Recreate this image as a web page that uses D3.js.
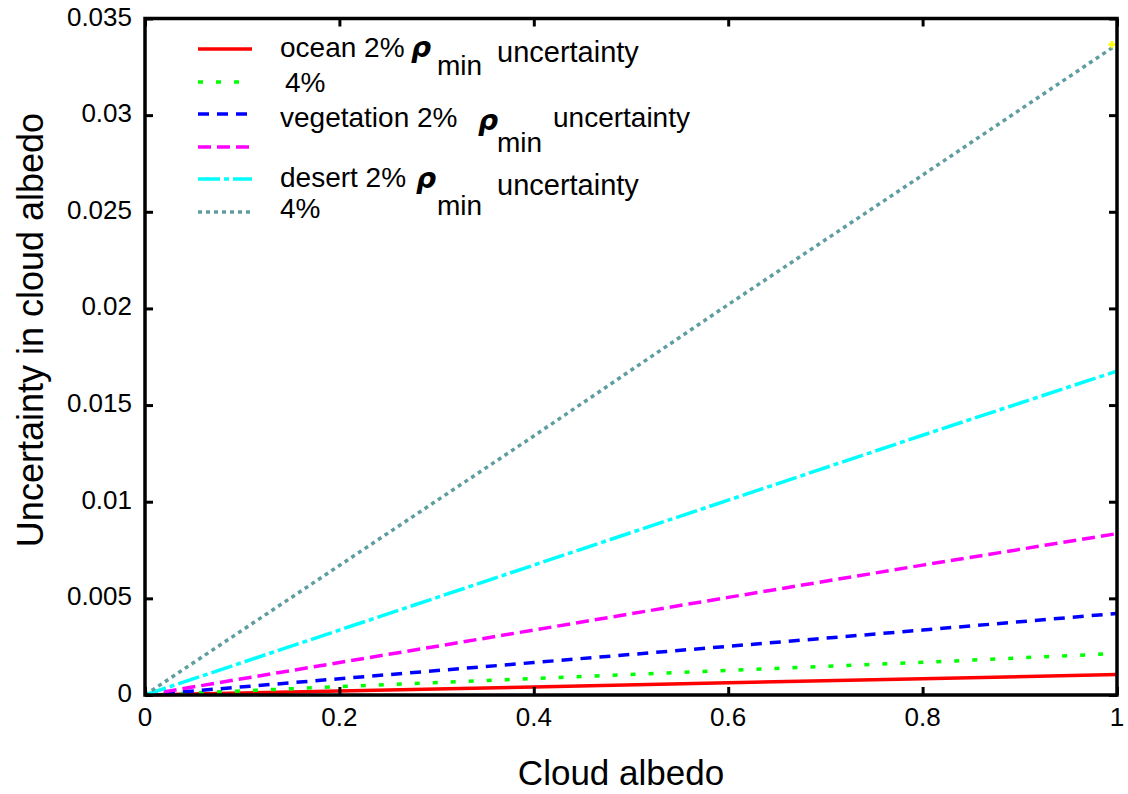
<!DOCTYPE html>
<html>
<head>
<meta charset="utf-8">
<script src="https://cdn.jsdelivr.net/npm/d3@7"></script>
<style>
  body { margin: 0; background: #fff; }
  svg { display: block; font-family: "Liberation Sans", Arial, sans-serif; }
</style>
</head>
<body>
<svg></svg>
<script>
const width  = 1128,
      height = 794,
      margin = {top: 18.5, right: 11, bottom: 99, left: 145},
      svg = d3.select("svg").attr("width", width).attr("height", height);

// cloud albedo samples
const albedo = [0, 0.2, 0.4, 0.6, 0.8, 1.0];

// uncertainty in cloud albedo
const ocean2      = [0, 0.00021, 0.00042, 0.00063, 0.00084, 0.00106];
const ocean4      = [0, 0.00043, 0.00085, 0.00127, 0.00169, 0.00215];
const vegetation2 = [0, 0.00084, 0.00168, 0.00252, 0.00336, 0.00422];
const vegetation4 = [0, 0.00168, 0.00336, 0.00505, 0.00672, 0.00835];
const desert2     = [0, 0.00336, 0.00672, 0.01008, 0.01344, 0.01676];
const desert4     = [0, 0.0067, 0.0134, 0.0202, 0.0269, 0.03365];

const xTicks = [0, 0.2, 0.4, 0.6, 0.8, 1];
const yTicks = [0, 0.005, 0.01, 0.015, 0.02, 0.025, 0.03, 0.035];

const series = [
  {values: ocean2,      color: "#ff0000", dash: null},
  {values: ocean4,      color: "#00ff00", dash: "5,13"},
  {values: vegetation2, color: "#0000ff", dash: "11,8"},
  {values: vegetation4, color: "#ff00ff", dash: "13,6"},
  {values: desert2,     color: "#00ffff", dash: "22,4,5,4"},
  {values: desert4,     color: "#5f9ea0", dash: "4,4"}
];

const x = d3.scaleLinear().domain([0, 1]).range([margin.left, width - margin.right]);
const y = d3.scaleLinear().domain([0, 0.035]).range([height - margin.bottom, margin.top]);

const line = d3.line()
  .x((d, i) => x(albedo[i]))
  .y(d => y(d));

// data lines
const lines = svg.append("g").attr("class", "lines");
series.forEach(s => {
  lines.append("path")
    .attr("d", line(s.values))
    .attr("fill", "none")
    .attr("stroke", s.color)
    .attr("stroke-width", 3.5)
    .attr("stroke-dasharray", s.dash);
});

// little yellow mark at the end of the last curve
lines.append("path")
  .attr("d", d3.symbol(d3.symbolCross, 30)())
  .attr("transform", `translate(${x(albedo[albedo.length - 1]) - 5}, ${y(desert4[desert4.length - 1])})`)
  .attr("fill", "#ffff00");

// axes, ticks pointing in on all four sides
const tickLen = 8;
const axes = svg.append("g").attr("class", "axis");

axes.append("g")
  .attr("transform", `translate(0, ${y(0)})`)
  .call(d3.axisTop(x).tickValues(xTicks).tickSize(tickLen).tickFormat(""))
  .call(g => g.select(".domain").remove());
axes.append("g")
  .attr("transform", `translate(0, ${y(0.035)})`)
  .call(d3.axisBottom(x).tickValues(xTicks).tickSize(tickLen).tickFormat(""))
  .call(g => g.select(".domain").remove());
axes.append("g")
  .attr("transform", `translate(${x(0)}, 0)`)
  .call(d3.axisRight(y).tickValues(yTicks).tickSize(tickLen).tickFormat(""))
  .call(g => g.select(".domain").remove());
axes.append("g")
  .attr("transform", `translate(${x(1)}, 0)`)
  .call(d3.axisLeft(y).tickValues(yTicks).tickSize(tickLen).tickFormat(""))
  .call(g => g.select(".domain").remove());
axes.selectAll(".tick line").attr("stroke", "#000").attr("stroke-width", 3);

svg.append("rect")
  .attr("x", x(0)).attr("y", y(0.035))
  .attr("width", x(1) - x(0)).attr("height", y(0) - y(0.035))
  .attr("fill", "none").attr("stroke", "#000").attr("stroke-width", 3.5);

// tick labels
svg.append("g").selectAll("text")
  .data(xTicks)
  .join("text")
  .attr("x", d => x(d))
  .attr("y", y(0) + 31)
  .attr("text-anchor", "middle")
  .attr("font-size", 26)
  .text(d => d3.format("")(d));

svg.append("g").selectAll("text")
  .data(yTicks)
  .join("text")
  .attr("x", x(0) - 13)
  .attr("y", d => y(d) + 7)
  .attr("text-anchor", "end")
  .attr("font-size", 26)
  .text(d => d3.format("")(d));

// axis titles
svg.append("text")
  .attr("x", 621)
  .attr("y", 785)
  .attr("text-anchor", "middle")
  .attr("font-size", 35)
  .text("Cloud albedo");

svg.append("text")
  .attr("transform", "translate(43, 330) rotate(-90)")
  .attr("text-anchor", "middle")
  .attr("font-size", 36)
  .text("Uncertainty in cloud albedo");

// legend
const legend = svg.append("g").attr("class", "legend");
const legendRows = [49, 82, 114, 147, 179, 212];
series.forEach((s, i) => {
  legend.append("line")
    .attr("x1", 198).attr("x2", 252)
    .attr("y1", legendRows[i]).attr("y2", legendRows[i])
    .attr("stroke", s.color)
    .attr("stroke-width", 3.5)
    .attr("stroke-dasharray", s.dash);
});

const legendText = [
  {t: "ocean 2%",      x: 280, y: 57,  size: 28},
  {t: "4%",            x: 285, y: 92,  size: 28},
  {t: "vegetation 2%", x: 280, y: 127, size: 28},
  {t: "desert 2%",     x: 280, y: 187, size: 28},
  {t: "4%",            x: 280, y: 218, size: 28},
  {t: "uncertainty",   x: 497, y: 62,  size: 29},
  {t: "uncertainty",   x: 553, y: 127, size: 28},
  {t: "uncertainty",   x: 497, y: 195, size: 29},
  {t: "min",           x: 437, y: 75,  size: 28},
  {t: "min",           x: 497, y: 152, size: 28},
  {t: "min",           x: 437, y: 215, size: 28}
];
legend.selectAll("text.lbl")
  .data(legendText)
  .join("text")
  .attr("class", "lbl")
  .attr("x", d => d.x)
  .attr("y", d => d.y)
  .attr("font-size", d => d.size)
  .text(d => d.t);

const rhoPos = [[411, 57], [478, 130], [416, 188]];
legend.selectAll("text.rho")
  .data(rhoPos)
  .join("text")
  .attr("class", "rho")
  .attr("x", d => d[0])
  .attr("y", d => d[1])
  .attr("font-family", "DejaVu Sans")
  .attr("font-weight", "bold")
  .attr("font-style", "italic")
  .attr("font-size", 28)
  .text("ρ");
</script>
</body>
</html>
